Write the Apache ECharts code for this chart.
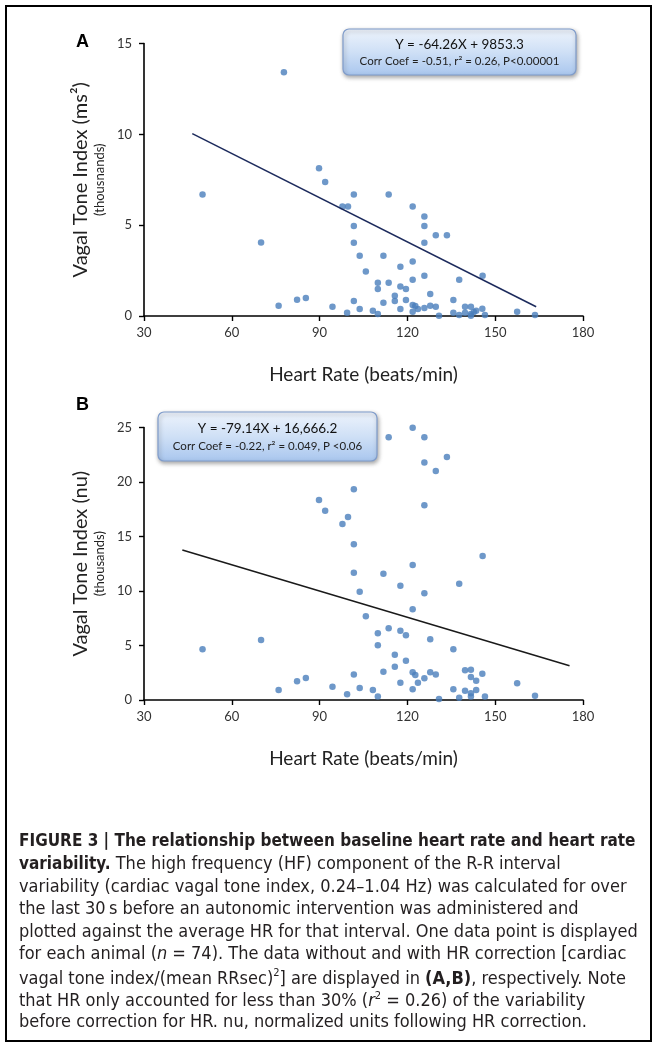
<!DOCTYPE html>
<html>
<head>
<meta charset="utf-8">
<script src="https://cdn.jsdelivr.net/npm/echarts@6/dist/echarts.min.js"></script>
<style>
html,body{margin:0;padding:0;background:#fff;}
#chart{width:659px;height:1047px;}
</style>
</head>
<body>
<div id="chart"></div>
<script>
// ---------- DATA ----------
const xTicks = [30, 60, 90, 120, 150, 180];
const yTicksA = [0, 5, 10, 15];
const yTicksB = [0, 5, 10, 15, 20, 25];

// Panel A: heart rate (beats/min) vs vagal tone index (ms^2, thousands)
const hrA = [77.8, 50.0, 89.8, 91.9, 70.0, 76.0, 82.3, 85.3, 94.4,
  101.7, 113.6, 97.8, 99.7, 121.8, 125.8, 101.7, 125.8, 129.7, 133.5,
  101.7, 125.8, 103.7, 111.8, 121.8, 117.6, 105.8, 145.7, 125.8, 121.8,
  137.7, 109.9, 113.6, 117.6, 119.5, 109.9, 115.7, 127.8, 115.7, 119.5,
  101.7, 111.8, 135.7, 103.7, 121.8, 122.7, 123.6, 117.6, 125.8, 127.8,
  129.7, 139.7, 141.7, 143.5, 145.6, 108.2, 109.9, 99.4, 121.8, 130.8,
  135.7, 137.7, 139.7, 141.7, 142.7, 141.7, 146.5, 157.5, 163.6];
const vtA = [13.42, 6.69, 8.13, 7.38, 4.05, 0.57, 0.90, 0.99, 0.51,
  6.69, 6.69, 6.03, 6.03, 6.03, 5.48, 4.95, 4.95, 4.45, 4.45,
  4.03, 4.03, 3.31, 3.31, 3.00, 2.71, 2.45, 2.22, 2.22, 2.00,
  2.00, 1.83, 1.83, 1.63, 1.48, 1.48, 1.12, 1.21, 0.82, 0.88,
  0.82, 0.73, 0.88, 0.38, 0.60, 0.55, 0.38, 0.38, 0.44, 0.57,
  0.51, 0.51, 0.51, 0.29, 0.40, 0.29, 0.11, 0.18, 0.24, 0.02,
  0.18, 0.05, 0.18, 0.11, 0.22, 0.02, 0.05, 0.24, 0.05];
const fitA_x = [46.5, 164.0];
const fitA_y = [10.04, 0.51];

// Panel B: heart rate vs vagal tone index (nu, thousands)
const hrB = [50.0, 70.0, 76.0, 82.3, 85.3, 94.4, 89.8, 91.9,
  121.8, 113.6, 125.8, 133.5, 125.8, 129.7, 101.7, 125.8, 99.7, 97.8,
  101.7, 145.7, 121.8, 101.7, 111.8, 137.7, 117.6, 103.7, 125.8, 121.8,
  105.8, 113.6, 117.6, 109.9, 119.5, 127.8, 109.9, 135.7, 115.7, 119.5,
  115.7, 101.7, 111.8, 121.8, 122.7, 127.8, 129.7, 139.7, 141.7, 145.6,
  141.7, 143.5, 125.8, 123.6, 117.6, 157.5, 103.7, 108.2, 121.8, 135.7,
  139.7, 143.5, 141.7, 99.4, 109.9, 141.7, 146.5, 137.7, 130.8, 163.6];
const vtB = [4.65, 5.50, 0.92, 1.71, 2.02, 1.22, 18.35, 17.37,
  24.98, 24.10, 24.10, 22.30, 21.80, 21.00, 19.33, 17.86, 16.79, 16.15,
  14.28, 13.21, 12.39, 11.68, 11.59, 10.67, 10.49, 9.94, 9.79, 8.32,
  7.68, 6.58, 6.36, 6.12, 5.93, 5.57, 5.02, 4.65, 4.16, 3.61,
  3.06, 2.35, 2.60, 2.54, 2.29, 2.54, 2.35, 2.72, 2.78, 2.41,
  2.11, 1.77, 1.99, 1.59, 1.59, 1.53, 1.10, 0.92, 0.98, 0.98,
  0.86, 0.92, 0.61, 0.52, 0.31, 0.31, 0.31, 0.21, 0.09, 0.40];
const fitB_x = [43.1, 175.4];
const fitB_y = [13.76, 3.15];

const eqA = ['Y = -64.26X + 9853.3', 'Corr Coef = -0.51, r\u00B2 = 0.26, P<0.00001'];
const eqB = ['Y = -79.14X + 16,666.2', 'Corr Coef = -0.22, r\u00B2 = 0.049, P <0.06'];

const xTitle = 'Heart Rate (beats/min)';
const yTitleA = ['Vagal Tone Index (ms\u00B2)', '(thousnands)'];
const yTitleB = ['Vagal Tone Index (nu)', '(thousands)'];

const captionLines = [
  '{b|FIGURE 3 | The relationship between baseline heart rate and heart rate}',
  '{b|variability.}{n| The high frequency (HF) component of the R-R interval}',
  '{n|variability (cardiac vagal tone index, 0.24\u20131.04 Hz) was calculated for over}',
  '{n|the last 30\u2009s before an autonomic intervention was administered and}',
  '{n|plotted against the average HR for that interval. One data point is displayed}',
  '{n|for each animal (}{i|n}{n| = 74). The data without and with HR correction [cardiac}',
  '{n|vagal tone index/(mean RRsec)}{s|2}{n|] are displayed in }{bb|(A,B)}{n|, respectively. Note}',
  '{n|that HR only accounted for less than 30% (}{i|r}{s|2}{n| = 0.26) of the variability}',
  '{n|before correction for HR. nu, normalized units following HR correction.}'
];

// ---------- CHART ----------
const chart = echarts.init(document.getElementById('chart'), null, {renderer: 'canvas'});
const FONT = 'Lato, "Open Sans", sans-serif';
const CAPFONT = '"Liberation Sans Narrow", "DejaVu Sans Condensed", sans-serif';
const zip = (a, b) => a.map((v, i) => [v, b[i]]);

function xAxisCfg(gridIndex) {
  return {
    gridIndex, type: 'value', min: xTicks[0], max: xTicks[xTicks.length - 1], interval: 30,
    axisLine: {onZero: false, lineStyle: {color: '#000', width: 1.6}},
    axisTick: {show: true, inside: false, length: 5, lineStyle: {color: '#000', width: 1.4}},
    axisLabel: {color: '#333', fontSize: 13, fontFamily: FONT, margin: 10},
    splitLine: {show: false},
    name: xTitle, nameLocation: 'middle', nameGap: 49,
    nameTextStyle: {fontSize: 19, color: '#222', fontFamily: FONT}
  };
}
function yAxisCfg(gridIndex, max, title) {
  return {
    gridIndex, type: 'value', min: 0, max, interval: 5,
    axisLine: {show: true, onZero: false, lineStyle: {color: '#000', width: 1.6}},
    axisTick: {show: true, inside: false, length: 5, lineStyle: {color: '#000', width: 1.4}},
    axisLabel: {color: '#333', fontSize: 13, fontFamily: FONT, margin: 12},
    splitLine: {show: false},
    name: '{a|' + title[0] + '}\n{b|' + title[1] + '}',
    nameLocation: 'middle', nameRotate: 90, nameGap: 31,
    nameTextStyle: {
      fontFamily: FONT, color: '#222',
      rich: {
        a: {fontSize: 20, lineHeight: 22, color: '#222', fontFamily: FONT},
        b: {fontSize: 13, lineHeight: 16, color: '#222', fontFamily: FONT}
      }
    }
  };
}

function eqBox(x, y, w, h, lines, fs1, fs2) {
  return {
    type: 'group', x, y,
    children: [
      {type: 'rect', shape: {x: 0, y: 0, width: w, height: h, r: 6},
        style: {
          fill: new echarts.graphic.LinearGradient(0, 0, 0, 1, [
            {offset: 0, color: '#eef4fc'}, {offset: 0.5, color: '#cfe0f6'}, {offset: 1, color: '#a9c6ee'}]),
          stroke: '#7f9ccb', lineWidth: 1.2,
          shadowBlur: 4, shadowOffsetX: 1, shadowOffsetY: 2, shadowColor: 'rgba(0,0,0,0.35)'
        }},
      {type: 'text', x: w / 2, y: h * 0.34,
        style: {text: lines[0], fontSize: fs1, fontFamily: FONT, fill: '#111', align: 'center', verticalAlign: 'middle'}},
      {type: 'text', x: w / 2, y: h * 0.70,
        style: {text: lines[1], fontSize: fs2, fontFamily: FONT, fill: '#222', align: 'center', verticalAlign: 'middle'}}
    ]
  };
}

const capRich = {
  n: {fontSize: 18, fontFamily: CAPFONT, color: '#231f20', lineHeight: 22},
  b: {fontSize: 17, fontFamily: CAPFONT, fontWeight: 'bold', color: '#111', lineHeight: 22},
  bb: {fontSize: 18, fontFamily: CAPFONT, fontWeight: 'bold', color: '#111', lineHeight: 22},
  i: {fontSize: 18, fontFamily: CAPFONT, fontStyle: 'italic', color: '#231f20', lineHeight: 22},
  s: {fontSize: 11, fontFamily: CAPFONT, color: '#231f20', lineHeight: 13, verticalAlign: 'top'}
};
const captionGraphics = captionLines.map((t, k) => ({
  type: 'text', left: 19, top: 833 + k * 22.5,
  style: {text: t, rich: capRich, fontFamily: CAPFONT, fontSize: 18, fill: '#231f20'}
}));

const option = {
  backgroundColor: '#ffffff',
  animation: false,
  grid: [
    {left: 144, top: 43.5, width: 439, height: 272.5},
    {left: 144, top: 427.5, width: 439, height: 272.5}
  ],
  xAxis: [xAxisCfg(0), xAxisCfg(1)],
  yAxis: [yAxisCfg(0, yTicksA[yTicksA.length - 1], yTitleA), yAxisCfg(1, yTicksB[yTicksB.length - 1], yTitleB)],
  series: [
    {type: 'scatter', xAxisIndex: 0, yAxisIndex: 0, data: zip(hrA, vtA), symbolSize: 6.5,
      itemStyle: {color: '#4a7ebb'}},
    {type: 'line', xAxisIndex: 0, yAxisIndex: 0, data: zip(fitA_x, fitA_y), symbol: 'none',
      lineStyle: {color: '#1c2a5c', width: 1.5}},
    {type: 'scatter', xAxisIndex: 1, yAxisIndex: 1, data: zip(hrB, vtB), symbolSize: 6.5,
      itemStyle: {color: '#4a7ebb'}},
    {type: 'line', xAxisIndex: 1, yAxisIndex: 1, data: zip(fitB_x, fitB_y), symbol: 'none',
      lineStyle: {color: '#1a1a1a', width: 1.5}}
  ],
  graphic: [
    {type: 'rect', shape: {x: 6, y: 6, width: 645, height: 1035}, style: {fill: 'none', stroke: '#000', lineWidth: 2}, silent: true},
    {type: 'text', left: 76, top: 33, style: {text: 'A', fontSize: 18, fontWeight: 'bold', fontFamily: 'Liberation Sans, Arial, sans-serif', fill: '#000'}},
    {type: 'text', left: 76, top: 396, style: {text: 'B', fontSize: 18, fontWeight: 'bold', fontFamily: 'Liberation Sans, Arial, sans-serif', fill: '#000'}},
    eqBox(343, 29, 233, 46, eqA, 13.5, 11.5),
    eqBox(158, 412, 219, 49, eqB, 13.5, 11.5)
  ].concat(captionGraphics)
};
chart.setOption(option);
</script>
</body>
</html>
